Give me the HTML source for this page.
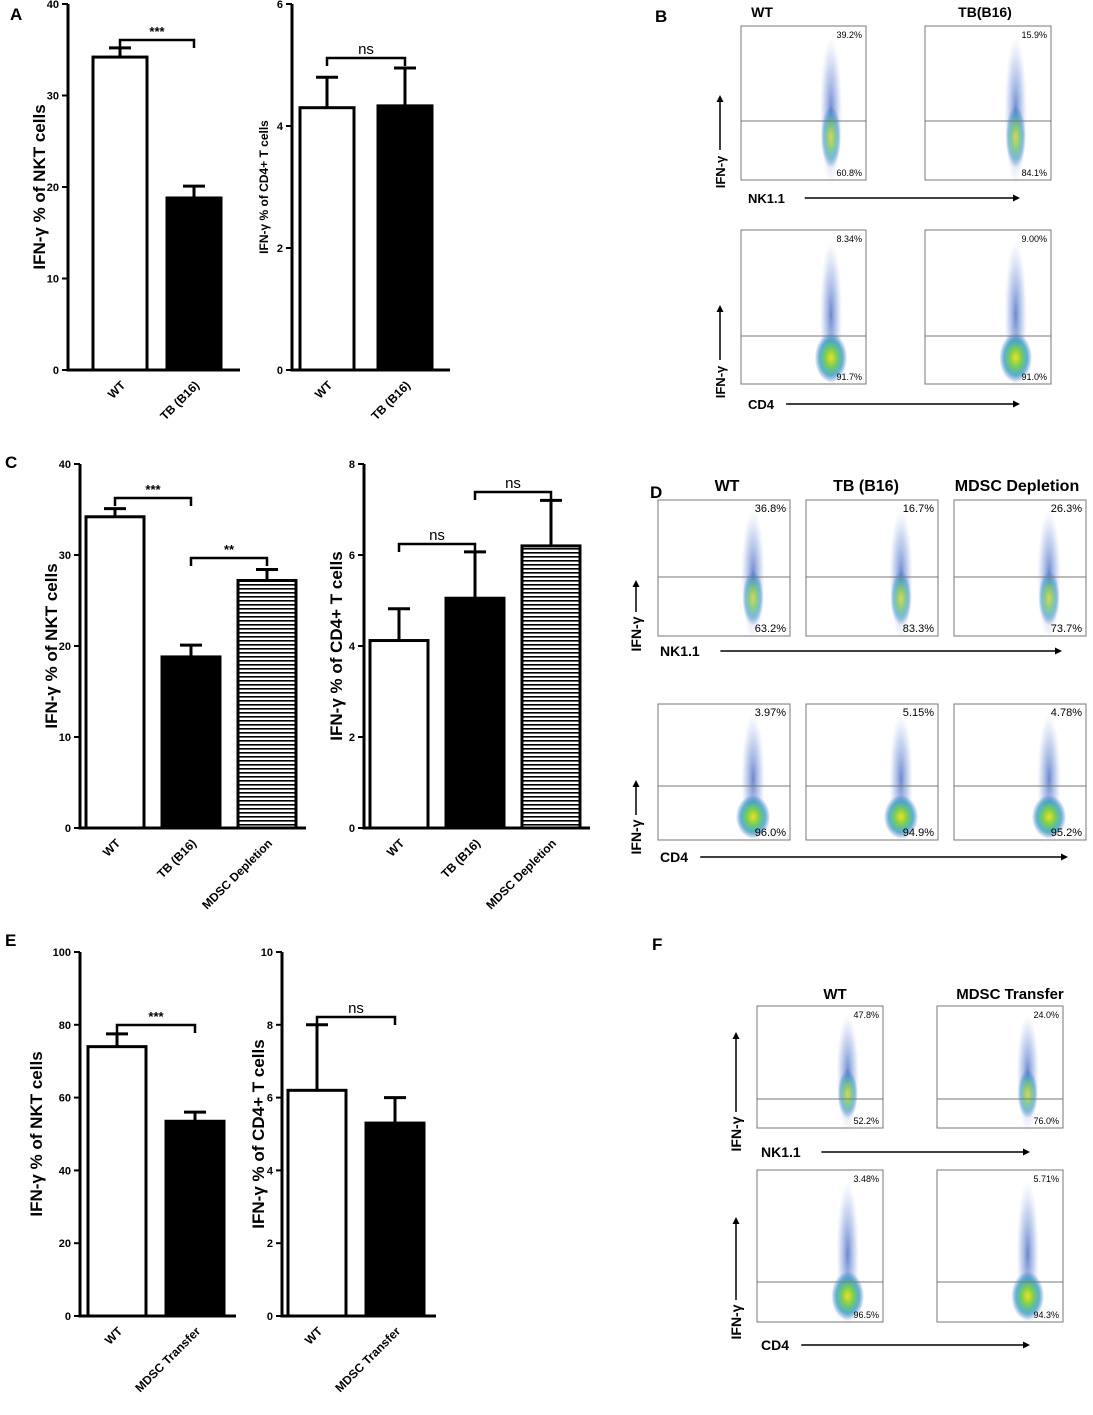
<!DOCTYPE html>
<html><head><meta charset="utf-8"><style>
body{margin:0;background:#fff}
svg{display:block;font-family:"Liberation Sans",Arial,sans-serif}
</style></head><body>
<svg id="fig" width="1093" height="1415" viewBox="0 0 1093 1415">
<defs>
<pattern id="stripes" width="6" height="4" patternUnits="userSpaceOnUse"><rect width="6" height="4" fill="#fff"/><rect y="0" width="6" height="1.6" fill="#000"/></pattern>
<radialGradient id="cloud"><stop offset="0" stop-color="#3a5fc0" stop-opacity="0.75"/><stop offset="0.6" stop-color="#6f8fd6" stop-opacity="0.35"/><stop offset="1" stop-color="#9fb4e6" stop-opacity="0"/></radialGradient>
<radialGradient id="core"><stop offset="0" stop-color="#f0e020"/><stop offset="0.35" stop-color="#7ccf50"/><stop offset="0.7" stop-color="#30a0c0" stop-opacity="0.8"/><stop offset="1" stop-color="#3060c0" stop-opacity="0"/></radialGradient>
</defs>
</svg>
<script>
// ---- chart data ----
const aLeftCats=["WT","TB (B16)"];
const aLeftVals=[34.2,18.8];
const aLeftErr=[35.2,20.1];
const aRightCats=["WT","TB (B16)"];
const aRightVals=[4.3,4.33];
const aRightErr=[4.8,4.95];
const cLeftCats=["WT","TB (B16)","MDSC Depletion"];
const cLeftVals=[34.2,18.8,27.2];
const cLeftErr=[35.1,20.1,28.4];
const cRightCats=["WT","TB (B16)","MDSC Depletion"];
const cRightVals=[4.12,5.05,6.2];
const cRightErr=[4.82,6.07,7.2];
const eLeftCats=["WT","MDSC Transfer"];
const eLeftVals=[74,53.5];
const eLeftErr=[77.5,56];
const eRightCats=["WT","MDSC Transfer"];
const eRightVals=[6.2,5.3];
const eRightErr=[8,6];
const aLeftTicks=[0,10,20,30,40];
const aRightTicks=[0,2,4,6];
const cLeftTicks=[0,10,20,30,40];
const cRightTicks=[0,2,4,6,8];
const eLeftTicks=[0,20,40,60,80,100];
const eRightTicks=[0,2,4,6,8,10];

const NS="http://www.w3.org/2000/svg";
const svg=document.getElementById('fig');
function mk(tag,attrs,parent,text){const e=document.createElementNS(NS,tag);for(const k in attrs)e.setAttribute(k,attrs[k]);if(text!==undefined)e.textContent=text;(parent||svg).appendChild(e);return e;}

function barChart(name,cfg,cats,vals,errs,ticks){
  const g=mk('g',{});
  
  
  const max=ticks[ticks.length-1];
  const y=v=>cfg.yb-(v/max)*(cfg.yb-cfg.yt);
  const bx=i=>cfg.bx0+i*cfg.step;
  vals.forEach((v,i)=>{
    const x=bx(i),top=y(v);
    const fill=i===0?'#fff':(i===1?'#000':'url(#stripes)');
    const eb=mk('g',{},g);
    
    
    mk('line',{x1:x+cfg.bw/2,x2:x+cfg.bw/2,y1:top,y2:y(errs[i]),stroke:'#000','stroke-width':3},eb);
    mk('line',{x1:x+cfg.bw/2-11,x2:x+cfg.bw/2+11,y1:y(errs[i]),y2:y(errs[i]),stroke:'#000','stroke-width':3},eb);
    const r=mk('rect',{x:x,y:top,width:cfg.bw,height:cfg.yb-top,fill:fill,stroke:'#000','stroke-width':3},g);
    
    
    const t=mk('text',{x:0,y:0,'font-size':12,'font-weight':'bold','text-anchor':'end',transform:`translate(${x+cfg.bw/2+6},${cfg.yb+16}) rotate(-45)`},g,cats[i]);
    
    
  });
  mk('line',{x1:cfg.ax,x2:cfg.ax,y1:cfg.yt,y2:cfg.yb+1.5,stroke:'#000','stroke-width':3},g);
  mk('line',{x1:cfg.ax-1.5,x2:cfg.xe,y1:cfg.yb,y2:cfg.yb,stroke:'#000','stroke-width':3},g);
  ticks.forEach(t=>{
    mk('line',{x1:cfg.ax-6,x2:cfg.ax,y1:y(t),y2:y(t),stroke:'#000','stroke-width':2},g);
    const tl=mk('text',{x:cfg.ax-9,y:y(t)+4,'font-size':11,'font-weight':'bold','text-anchor':'end'},g,t);
    
    
  });
  const yt=mk('text',{x:0,y:0,'font-size':cfg.fs,'font-weight':'bold','text-anchor':'middle',transform:`translate(${cfg.lx},${(cfg.yt+cfg.yb)/2}) rotate(-90)`},g,cfg.label);
  
  
  cfg.br.forEach(b=>{
    const x1=bx(b[0])+cfg.bw/2,x2=bx(b[1])+cfg.bw/2;
    mk('path',{d:`M${x1},${b[2]+8}V${b[2]}H${x2}V${b[2]+8}`,fill:'none',stroke:'#000','stroke-width':2.5},g);
    const s=mk('text',{x:(x1+x2)/2,y:b[2]-4,'font-size':b[3]==='ns'?15:13,'text-anchor':'middle','font-weight':b[3]==='ns'?'normal':'bold'},g,b[3]);
    
    
  });
}
barChart('chart-a-nkt',{ax:68,yt:4,yb:370,xe:240,bx0:93,bw:54,step:74,lx:45,fs:17,label:'IFN-γ % of NKT cells',br:[[0,1,40,'***']]},aLeftCats,aLeftVals,aLeftErr,aLeftTicks);
barChart('chart-a-cd4',{ax:292,yt:4,yb:370,xe:450,bx0:300,bw:54,step:78,lx:268,fs:12,label:'IFN-γ % of CD4+ T cells',br:[[0,1,58,'ns']]},aRightCats,aRightVals,aRightErr,aRightTicks);
barChart('chart-c-nkt',{ax:80,yt:464,yb:828,xe:306,bx0:86,bw:58,step:76,lx:57,fs:17,label:'IFN-γ % of NKT cells',br:[[0,1,498,'***'],[1,2,558,'**']]},cLeftCats,cLeftVals,cLeftErr,cLeftTicks);
barChart('chart-c-cd4',{ax:364,yt:464,yb:828,xe:590,bx0:370,bw:58,step:76,lx:342,fs:17,label:'IFN-γ % of CD4+ T cells',br:[[0,1,544,'ns'],[1,2,492,'ns']]},cRightCats,cRightVals,cRightErr,cRightTicks);
barChart('chart-e-nkt',{ax:80,yt:952,yb:1316,xe:236,bx0:88,bw:58,step:78,lx:42,fs:17,label:'IFN-γ % of NKT cells',br:[[0,1,1025,'***']]},eLeftCats,eLeftVals,eLeftErr,eLeftTicks);
barChart('chart-e-cd4',{ax:282,yt:952,yb:1316,xe:436,bx0:288,bw:58,step:78,lx:264,fs:17,label:'IFN-γ % of CD4+ T cells',br:[[0,1,1017,'ns']]},eRightCats,eRightVals,eRightErr,eRightTicks);

[['A',10,20],['B',655,22],['C',5,468],['D',650,498],['E',5,946],['F',652,950]].forEach(p=>{
  const t=mk('text',{x:p[1],y:p[2],'font-size':17,'font-weight':'bold'},svg,p[0]);
  
  
});

function flowPlot(name,x,y,w,h,gate,hi,lo,row2,fs){
  const g=mk('g',{});
  
  
  mk('rect',{x:x,y:y,width:w,height:h,fill:'#fff',stroke:'#777','stroke-width':1},g);
  const cx=x+w*0.72;
  mk('ellipse',{cx:cx,cy:y+h*0.55,rx:w*0.09,ry:h*0.48,fill:'url(#cloud)'},g);
  if(row2){
    mk('ellipse',{cx:cx,cy:y+h*0.83,rx:w*0.13,ry:h*0.16,fill:'url(#core)'},g);
  }else{
    mk('ellipse',{cx:cx,cy:y+h*0.72,rx:w*0.08,ry:h*0.2,fill:'url(#core)',opacity:0.7},g);
  }
  mk('line',{x1:x,x2:x+w,y1:gate,y2:gate,stroke:'#777','stroke-width':1},g);
  mk('text',{x:x+w-4,y:y+12,'font-size':fs,'text-anchor':'end'},g,hi);
  mk('text',{x:x+w-4,y:y+h-4,'font-size':fs,'text-anchor':'end'},g,lo);
}
function axisLabels(name,vx,vy1,vy2,vlab,hx,hy,hx2,hlab,fs){
  const g=mk('g',{});
  
  
  mk('line',{x1:vx,x2:vx,y1:vy2,y2:vy1+4,stroke:'#000','stroke-width':1.5},g);
  mk('path',{d:`M${vx-3.5},${vy1+7}L${vx},${vy1}L${vx+3.5},${vy1+7}Z`},g);
  mk('text',{x:0,y:0,'font-size':fs,'font-weight':'bold','text-anchor':'middle',transform:`translate(${vx+5},${vy2+22}) rotate(-90)`},g,vlab);
  mk('text',{x:hx,y:hy+5,'font-size':fs,'font-weight':'bold'},g,hlab);
  const tx=hx+hlab.length*fs*0.72+10;
  mk('line',{x1:tx,x2:hx2-4,y1:hy,y2:hy,stroke:'#000','stroke-width':1.5},g);
  mk('path',{d:`M${hx2-7},${hy-3.5}L${hx2},${hy}L${hx2-7},${hy+3.5}Z`},g);
}
function title(t,x,y,fs){const e=mk('text',{x:x,y:y,'font-size':fs,'font-weight':'bold','text-anchor':'middle'},svg,t);}

// B
title('WT',762,17,14);title('TB(B16)',985,17,14);
flowPlot('flow-b-wt-nk',741,26,125,154,121,'39.2%','60.8%',false,9);
flowPlot('flow-b-tb-nk',925,26,126,154,121,'15.9%','84.1%',false,9);
flowPlot('flow-b-wt-cd4',741,230,125,154,336,'8.34%','91.7%',true,9);
flowPlot('flow-b-tb-cd4',925,230,126,154,336,'9.00%','91.0%',true,9);
axisLabels('flow-b-axes-nk',720,95,150,'IFN-γ',748,198,1020,'NK1.1',13);
axisLabels('flow-b-axes-cd4',720,305,360,'IFN-γ',748,404,1020,'CD4',13);
// D
title('WT',727,491,16);title('TB (B16)',866,491,16);title('MDSC Depletion',1017,491,16);
flowPlot('flow-d-wt-nk',658,500,132,136,577,'36.8%','63.2%',false,11);
flowPlot('flow-d-tb-nk',806,500,132,136,577,'16.7%','83.3%',false,11);
flowPlot('flow-d-mdsc-nk',954,500,132,136,577,'26.3%','73.7%',false,11);
flowPlot('flow-d-wt-cd4',658,704,132,136,786,'3.97%','96.0%',true,11);
flowPlot('flow-d-tb-cd4',806,704,132,136,786,'5.15%','94.9%',true,11);
flowPlot('flow-d-mdsc-cd4',954,704,132,136,786,'4.78%','95.2%',true,11);
axisLabels('flow-d-axes-nk',636,580,612,'IFN-γ',660,651,1062,'NK1.1',14);
axisLabels('flow-d-axes-cd4',636,780,815,'IFN-γ',660,857,1068,'CD4',14);
// F
title('WT',835,999,15);title('MDSC Transfer',1010,999,15);
flowPlot('flow-f-wt-nk',757,1006,126,122,1099,'47.8%','52.2%',false,9);
flowPlot('flow-f-mdsc-nk',937,1006,126,122,1099,'24.0%','76.0%',false,9);
flowPlot('flow-f-wt-cd4',757,1170,126,152,1282,'3.48%','96.5%',true,9);
flowPlot('flow-f-mdsc-cd4',937,1170,126,152,1282,'5.71%','94.3%',true,9);
axisLabels('flow-f-axes-nk',736,1032,1112,'IFN-γ',761,1152,1030,'NK1.1',14);
axisLabels('flow-f-axes-cd4',736,1217,1300,'IFN-γ',761,1345,1030,'CD4',14);
</script>
</body></html>
